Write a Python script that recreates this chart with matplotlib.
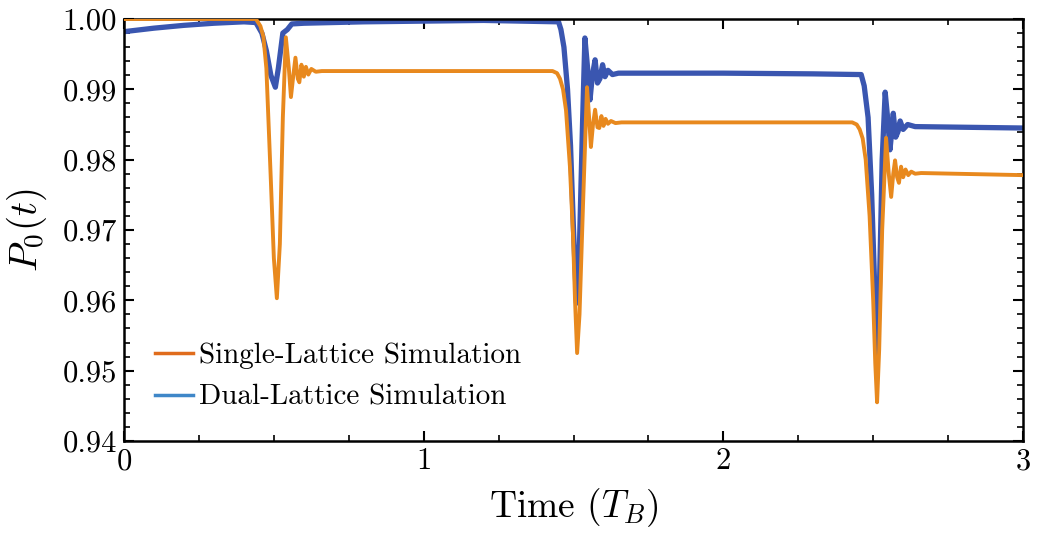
import numpy as np
import matplotlib
matplotlib.use("Agg")
import matplotlib.pyplot as plt
from matplotlib.lines import Line2D
from matplotlib.ticker import MultipleLocator, FormatStrFormatter

plt.rcParams['font.family'] = 'serif'
plt.rcParams['font.serif'] = ['cmr10', 'DejaVu Serif']
plt.rcParams['mathtext.fontset'] = 'cm'
plt.rcParams['axes.formatter.use_mathtext'] = True

# single-lattice simulation
t_single = [0.0, 0.44, 0.455, 0.465, 0.475, 0.49, 0.50, 0.51, 0.52, 0.53, 0.54,
            0.55, 0.557, 0.565, 0.572, 0.58, 0.585, 0.592, 0.60, 0.607, 0.615,
            0.625, 0.64, 0.66, 1.0, 1.43, 1.445, 1.455, 1.465, 1.475, 1.488,
            1.498, 1.505, 1.512, 1.52, 1.532, 1.545, 1.552, 1.558, 1.565, 1.572,
            1.58, 1.586, 1.593, 1.60, 1.607, 1.615, 1.625, 1.64, 1.66, 2.0,
            2.43, 2.445, 2.455, 2.465, 2.475, 2.488, 2.50, 2.507, 2.513, 2.52,
            2.53, 2.543, 2.552, 2.56, 2.567, 2.573, 2.58, 2.586, 2.593, 2.60,
            2.608, 2.617, 2.627, 2.64, 2.66, 3.0]
p_single = [1.0000, 1.0000, 0.9990, 0.9975, 0.9930, 0.9770, 0.9660, 0.9603, 0.9680, 0.9860, 0.9974,
            0.9930, 0.9889, 0.9920, 0.9945, 0.9915, 0.9910, 0.9935, 0.9918, 0.9932, 0.9921,
            0.9929, 0.9925, 0.9926, 0.9926, 0.9926, 0.9923, 0.9915, 0.9900, 0.9870, 0.9790,
            0.9696, 0.9600, 0.9525, 0.9580, 0.9740, 0.9903, 0.9860, 0.9818, 0.9850, 0.9871,
            0.9846, 0.9845, 0.9862, 0.9848, 0.9858, 0.9851, 0.9855, 0.9852, 0.9853, 0.9853,
            0.9853, 0.9850, 0.9843, 0.9830, 0.9800, 0.9720, 0.9600, 0.9510, 0.9455, 0.9530,
            0.9700, 0.9831, 0.9780, 0.9747, 0.9780, 0.9799, 0.9775, 0.9767, 0.9790, 0.9775,
            0.9786, 0.9778, 0.9783, 0.9780, 0.9781, 0.9778]

# dual-lattice simulation
t_dual = [0.0, 0.1, 0.2, 0.3, 0.4, 0.44, 0.46, 0.475, 0.49, 0.505, 0.515,
          0.53, 0.545, 0.56, 0.6, 0.8, 1.0, 1.2, 1.45, 1.458, 1.468, 1.48,
          1.49, 1.50, 1.51, 1.52, 1.53, 1.538, 1.547, 1.555, 1.563, 1.572,
          1.58, 1.588, 1.597, 1.605, 1.615, 1.63, 1.65, 2.0, 2.3, 2.46,
          2.47, 2.483, 2.495, 2.505, 2.513, 2.52, 2.53, 2.54, 2.548, 2.556,
          2.562, 2.567, 2.575, 2.583, 2.59, 2.60, 2.615, 2.64, 3.0]
p_dual = [0.9982, 0.9987, 0.9991, 0.9994, 0.9996, 0.9995, 0.9980, 0.9955, 0.9920, 0.9903, 0.9930,
          0.9980, 0.9985, 0.9993, 0.9994, 0.9996, 0.9997, 0.9998, 0.9996, 0.9985, 0.9960, 0.9900,
          0.9820, 0.9700, 0.9596, 0.9680, 0.9850, 0.9973, 0.9930, 0.9885, 0.9920, 0.9942,
          0.9909, 0.9915, 0.9935, 0.9918, 0.9927, 0.9921, 0.9923, 0.9923, 0.9922, 0.9921,
          0.9905, 0.9860, 0.9750, 0.9620, 0.9522, 0.9600, 0.9800, 0.9896, 0.9860, 0.9814,
          0.9840, 0.9866, 0.9832, 0.9840, 0.9855, 0.9843, 0.9850, 0.9847, 0.9845]

orange = '#e8891e'
blue = '#3a56b0'

fig = plt.figure(figsize=(10.44, 5.34), dpi=100)
ax = fig.add_axes([0.1188, 0.1742, 0.8611, 0.7902])

ax.plot(t_single, p_single, color=orange, lw=2.8, zorder=3)
ax.plot(t_dual, p_dual, color=blue, lw=3.8, zorder=2)

ax.set_xlim(0, 3)
ax.set_ylim(0.94, 1.00)
ax.xaxis.set_major_locator(MultipleLocator(1))
ax.xaxis.set_minor_locator(MultipleLocator(0.25))
ax.yaxis.set_major_locator(MultipleLocator(0.01))
ax.yaxis.set_minor_locator(MultipleLocator(0.002))
ax.yaxis.set_major_formatter(FormatStrFormatter('%.2f'))
ax.xaxis.set_major_formatter(FormatStrFormatter('%d'))
ax.tick_params(which='both', direction='in', top=True, right=True, labelsize=22)
ax.tick_params(which='major', length=7, width=1.5, pad=5)
ax.tick_params(which='minor', length=4, width=1.2)
for s in ax.spines.values():
    s.set_linewidth(1.8)

ax.set_xlabel(r'Time ($T_B$)', fontsize=27, labelpad=8)
ax.set_ylabel(r'$P_0(t)$', fontsize=28, labelpad=10)

handles = [Line2D([], [], color='#e06c1c', lw=2.5),
           Line2D([], [], color='#3f87c8', lw=2.5)]
ax.legend(handles, ['Single-Lattice Simulation', 'Dual-Lattice Simulation'],
          loc='lower left', bbox_to_anchor=(0.0215, 0.044), frameon=False,
          fontsize=21, handlelength=1.3, handletextpad=0.2, labelspacing=0.53,
          borderaxespad=0)

fig.savefig('out.png', dpi=100)
